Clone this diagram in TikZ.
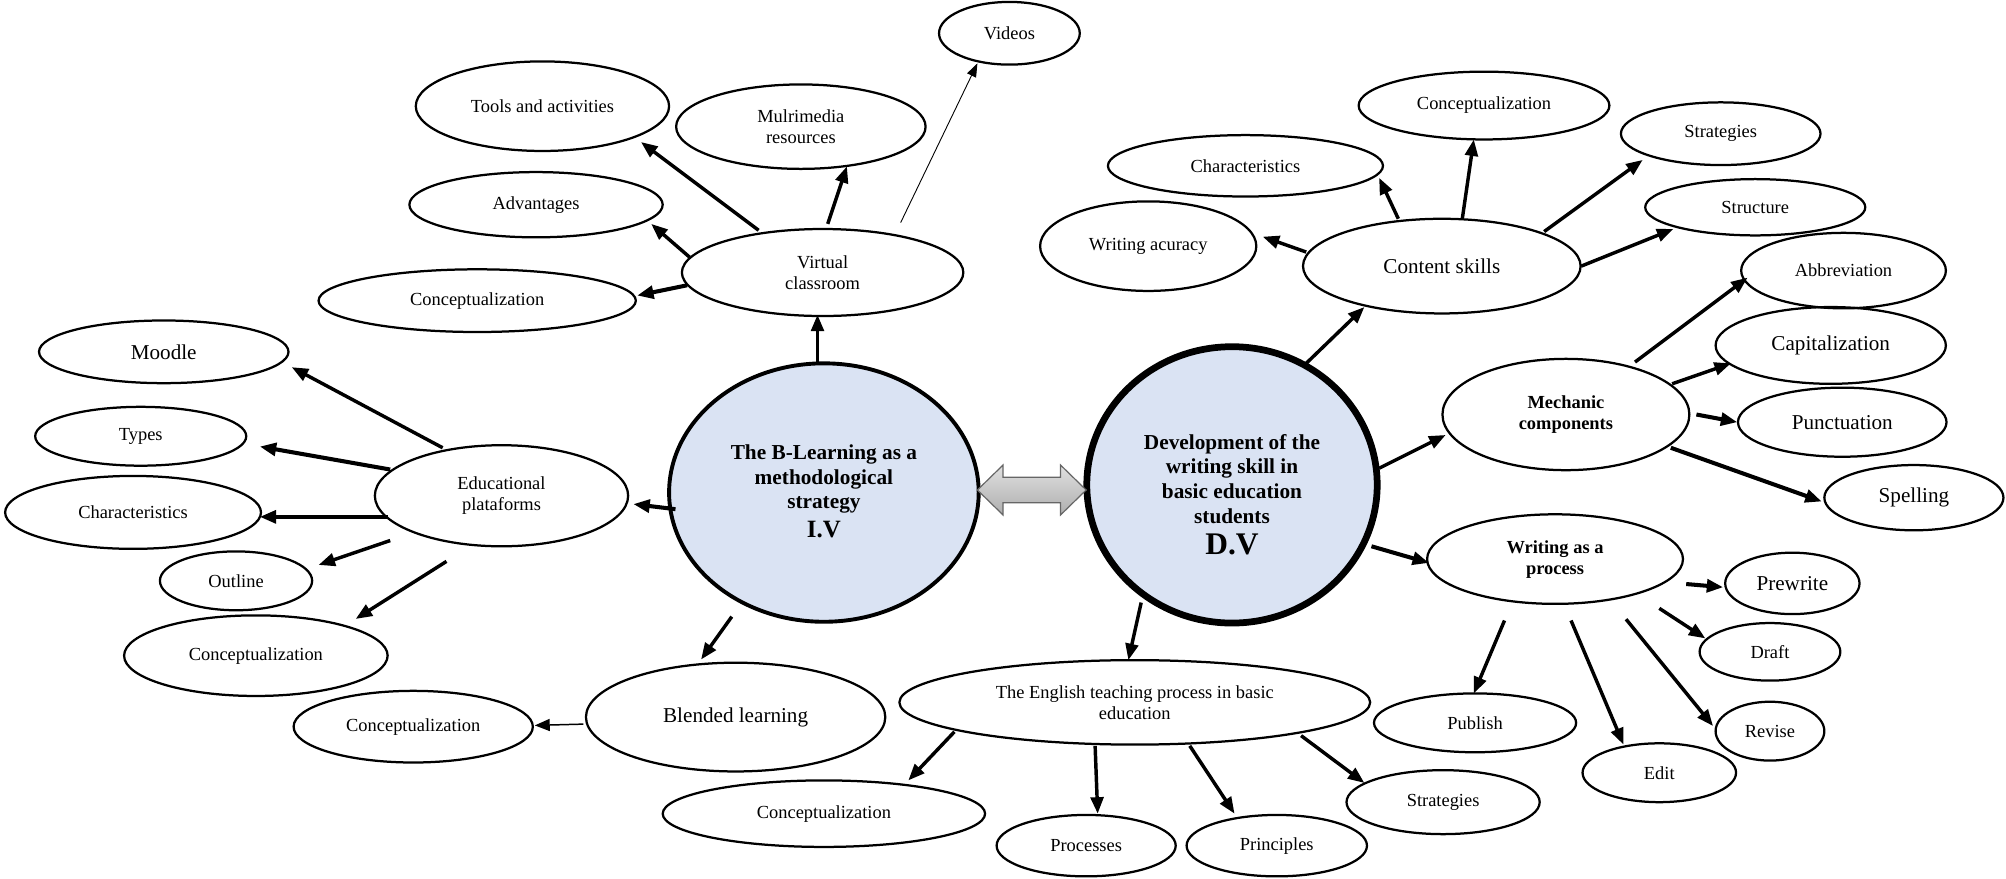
\documentclass[tikz,border=0pt]{standalone}
\usepackage{fontspec}
\setmainfont{Liberation Serif}
\usetikzlibrary{arrows.meta,shapes.geometric,calc}
\definecolor{mainfill}{RGB}{218,227,243}
\newcommand\fbase{\fontsize{12.3}{14}\selectfont}
\newcommand\fbig{\fontsize{14.1}{16}\selectfont}
\newcommand\fmain{\fontsize{14.2}{16.6}\selectfont}

\begin{document}
\begin{tikzpicture}[x=0.03cm,y=-0.03cm,
  sz/.style 2 args={minimum width=#1*0.03cm,minimum height=#2*0.03cm},
  bub/.style={ellipse,draw,line width=1.5pt,inner sep=0pt,align=center,font=\fbase},
  bigbub/.style={bub,font=\fbig},
  boldbub/.style={bub,font=\fbase\bfseries},
  core/.style={ellipse,draw,fill=mainfill,inner sep=0pt},
  coretext/.style={align=center,font=\fmain\bfseries,inner sep=0pt},
  arr/.style={-{Triangle[length=11pt,width=8.5pt]},line width=2.3pt},
  heavyarr/.style={arr,line width=2.7pt},
  lightarr/.style={-{Triangle[length=10pt,width=8pt]},line width=1pt},
  thinarr/.style={-{Triangle[length=9pt,width=6.5pt]},line width=0.6pt},
  twoway/.style={draw=black!60,line width=0.8pt,top color=black!12,bottom color=black!32},
]
\useasboundingbox (0,0) rectangle (1568,687);

% ---- central variables ----
\node[core,line width=2.6pt,sz={242}{202}] (bl) at (644,385) {};
\node[coretext] (bltext) at (644,384) {The B-Learning as a\\methodological\\strategy\\[2.6pt]{\fontsize{16.6}{16.6}\selectfont I.V}};
\node[core,line width=4.5pt,sz={227}{216}] (dv) at (963,379) {};
\node[coretext] (dvtext) at (963,386.5) {Development of the\\writing skill in\\basic education\\students\\[3.9pt]{\fontsize{21}{21}\selectfont D.V}};

% two-way link between the variables
\coordinate (link) at (806.5,383);
\draw[twoway] ($(link)+(-42.5,0)$) -- ++(20,-19.5) -- ++(0,9.5) -- ++(45,0) -- ++(0,-9.5)
  -- ++(20,19.5) -- ++(-20,19.5) -- ++(0,-9.5) -- ++(-45,0) -- ++(0,9.5) -- cycle;

% ---- independent variable branch ----
\node[bub,sz={110}{49}] (vid) at (789,26) {Videos};
\node[bub,sz={198}{70}] (tools) at (424,83) {Tools and activities};
\node[bub,sz={195}{66}] (multi) at (626,99) {Mulrimedia\\resources};
\node[bub,sz={198}{51}] (adv) at (419,160) {Advantages};
\node[bub,sz={220}{68}] (vc) at (643,213) {Virtual\\classroom};
\node[bub,sz={248}{49}] (vcconc) at (373,235) {Conceptualization};
\node[bigbub,sz={195}{49}] (moodle) at (128,275) {Moodle};
\node[bub,sz={165}{46}] (types) at (110,341) {Types};
\node[bub,sz={198}{79}] (ep) at (392,387.5) {Educational\\plataforms};
\node[bub,sz={200}{57}] (epchar) at (104,400.5) {Characteristics};
\node[bub,sz={119}{46}] (outline) at (184.5,454) {Outline};
\node[bub,sz={206}{63}] (epconc) at (200,512.5) {Conceptualization};
\node[bigbub,sz={234}{85}] (blend) at (575,560.5) {Blended learning};
\node[bub,sz={187}{56}] (blconc) at (323,568) {Conceptualization};

% ---- dependent variable branch ----
\node[bigbub,sz={217}{74}] (cs) at (1127,208) {Content skills};
\node[bub,sz={169}{70}] (wa) at (897.5,192.4) {Writing acuracy};
\node[bub,sz={215}{48}] (cschar) at (973.5,129.6) {Characteristics};
\node[bub,sz={196}{53}] (csconc) at (1160,82.5) {Conceptualization};
\node[bub,sz={156}{49}] (csstrat) at (1345,104.5) {Strategies};
\node[bub,sz={172}{44}] (struct) at (1372,162) {Structure};
\node[boldbub,sz={193}{87}] (mc) at (1224,324) {Mechanic\\components};
\node[bub,sz={160}{59}] (abbr) at (1441,211.5) {Abbreviation};
\node[bigbub,sz={180}{60}] (cap) at (1431,270) {Capitalization};
\node[bigbub,sz={163}{54}] (punc) at (1440,330) {Punctuation};
\node[bigbub,sz={140}{51}] (spell) at (1496,389) {Spelling};
\node[boldbub,sz={200}{70}] (wp) at (1215.5,437) {Writing as a\\process};
\node[bigbub,sz={105}{48}] (pre) at (1401,456) {Prewrite};
\node[bub,sz={110}{45}] (draft) at (1383.5,509.5) {Draft};
\node[bub,sz={85}{46}] (revise) at (1383.5,571.5) {Revise};
\node[bub,sz={120}{46}] (edit) at (1297,604) {Edit};
\node[bub,sz={158}{46}] (publish) at (1153,565) {Publish};
\node[bub,sz={368}{66}] (etp) at (887,549) {The English teaching process in basic\\education};
\node[bub,sz={252}{52}] (etconc) at (644,636) {Conceptualization};
\node[bub,sz={140}{48}] (proc) at (849,661) {Processes};
\node[bub,sz={141}{48}] (princ) at (998,661) {Principles};
\node[bub,sz={151}{50}] (etstrat) at (1128,627) {Strategies};

% ---- connectors, independent side ----
\draw[thinarr] ($(vc)+(61,-39)$) -- ($(vid)+(-25,23.5)$);
\draw[arr] ($(vc)+(-50,-33)$) -- ($(tools)+(77,28)$);
\draw[arr] ($(vc)+(4,-38)$) -- ($(multi)+(36,31)$);
\draw[arr] ($(vc)+(-104,-12)$) -- ($(adv)+(90,15)$);
\draw[heavyarr] ($(vc)+(-106,10)$) -- ($(vcconc)+(125,-4)$);
\draw[arr] ($(bl)+(-5,-102)$) -- ($(vc)+(-4,33)$);
\draw[arr] ($(ep)+(-46,-37.5)$) -- ($(moodle)+(100,12)$);
\draw[heavyarr] ($(ep)+(-87,-20.5)$) -- ($(types)+(93,8)$);
\draw[heavyarr] ($(ep)+(-89,16.5)$) -- ($(epchar)+(99,3.5)$);
\draw[arr] ($(ep)+(-87,35)$) -- ($(outline)+(64.5,-12.4)$);
\draw[arr] ($(ep)+(-43,51.3)$) -- ($(epconc)+(78,-28.7)$);
\draw[heavyarr] ($(bl)+(-116,13)$) -- ($(ep)+(103,6.5)$);
\draw[arr] ($(bl)+(-72,97)$) -- ($(blend)+(-27,-45)$);
\draw[lightarr] ($(blend)+(-119,5.5)$) -- ($(blconc)+(95,-1)$);

% ---- connectors, dependent side ----
\draw[arr] ($(dv)+(58,-95)$) -- ($(cs)+(-60.5,32)$);
\draw[arr] ($(cs)+(-106,-11)$) -- ($(wa)+(89.5,-7.4)$);
\draw[arr] ($(cs)+(-34,-37)$) -- ($(cschar)+(104.5,9.4)$);
\draw[arr] ($(cs)+(16,-37)$) -- ($(csconc)+(-8,26.5)$);
\draw[arr] ($(cs)+(80,-27)$) -- ($(csstrat)+(-61,20.5)$);
\draw[arr] ($(cs)+(109,0)$) -- ($(struct)+(-64,17)$);
\draw[arr] ($(dv)+(115,-13)$) -- ($(mc)+(-94,16)$);
\draw[arr] ($(mc)+(54,-41)$) -- ($(abbr)+(-75,5.5)$);
\draw[arr] ($(mc)+(83,-24)$) -- ($(cap)+(-78,14)$);
\draw[heavyarr] ($(mc)+(102,0)$) -- ($(punc)+(-82,0)$);
\draw[heavyarr] ($(mc)+(82,26)$) -- ($(spell)+(-72,3)$);
\draw[heavyarr] ($(dv)+(109,48)$) -- ($(wp)+(-98.5,3)$);
\draw[heavyarr] ($(wp)+(102.5,19.5)$) -- ($(pre)+(-54,3)$);
\draw[arr] ($(wp)+(81.5,38.5)$) -- ($(draft)+(-50.5,-10.5)$);
\draw[arr] ($(wp)+(55.5,47)$) -- ($(revise)+(-44.5,-4)$);
\draw[arr] ($(wp)+(12.5,48)$) -- ($(edit)+(-28,-22)$);
\draw[arr] ($(wp)+(-39.5,48)$) -- ($(publish)+(-1,-23)$);
\draw[arr] ($(dv)+(-71,92)$) -- ($(etp)+(-5,-33)$);
\draw[arr] ($(etp)+(-141,23)$) -- ($(etconc)+(66,-26)$);
\draw[arr] ($(etp)+(-31,34)$) -- ($(proc)+(9,-25)$);
\draw[arr] ($(etp)+(43,34)$) -- ($(princ)+(-33,-25)$);
\draw[arr] ($(etp)+(130,26)$) -- ($(etstrat)+(-61.5,-15)$);
\end{tikzpicture}
\end{document}
